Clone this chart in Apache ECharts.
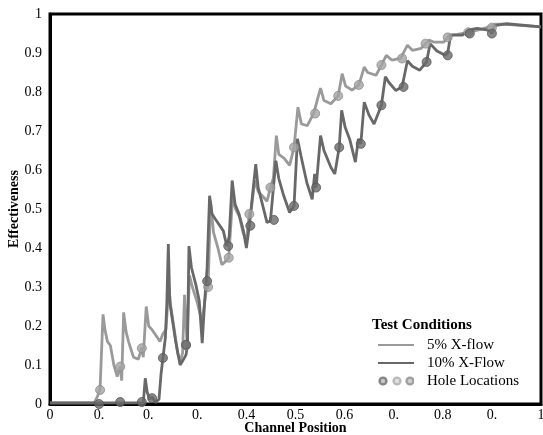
<!DOCTYPE html>
<html><head><meta charset="utf-8">
<script src="https://cdn.jsdelivr.net/npm/echarts@6/dist/echarts.min.js"></script>
<style>html,body{margin:0;padding:0;background:#fff}#c{width:543px;height:435px}</style>
</head><body><div id="c"></div>
<script>
// ---- data ----
const xTickLabels = ['0','0.','0.','0.','0.4','0.5','0.6','0.','0.8','0.','1'];
const yTickLabels = ['0','0.1','0.2','0.3','0.4','0.5','0.6','0.7','0.8','0.9','1'];

const x5 = [0,0.09,0.097,0.102,0.108,0.112,0.117,0.123,0.130,0.137,0.141,0.143,0.146,0.150,0.155,0.160,0.170,0.180,0.187,0.190,0.196,0.201,0.208,0.219,0.224,0.230,0.236,0.242,0.246,0.252,0.260,0.265,0.270,0.274,0.279,0.284,0.290,0.300,0.310,0.318,0.322,0.327,0.333,0.342,0.350,0.357,0.364,0.372,0.378,0.386,0.393,0.400,0.406,0.410,0.417,0.424,0.435,0.442,0.449,0.455,0.461,0.466,0.477,0.488,0.497,0.505,0.512,0.524,0.537,0.551,0.558,0.572,0.587,0.595,0.602,0.615,0.629,0.640,0.647,0.664,0.675,0.685,0.696,0.714,0.728,0.738,0.756,0.765,0.772,0.781,0.802,0.813,0.830,0.852,0.873,0.894,0.908,0.922,0.958,1.0];
const y5 = [0.003,0.003,0.02,0.04,0.23,0.19,0.16,0.15,0.10,0.07,0.09,0.096,0.06,0.235,0.185,0.16,0.12,0.115,0.145,0.12,0.25,0.20,0.19,0.17,0.16,0.18,0.19,0.30,0.25,0.20,0.13,0.11,0.13,0.28,0.16,0.33,0.30,0.26,0.21,0.29,0.30,0.52,0.44,0.40,0.357,0.365,0.375,0.53,0.50,0.48,0.44,0.418,0.487,0.50,0.573,0.545,0.53,0.52,0.555,0.58,0.688,0.64,0.63,0.612,0.658,0.761,0.718,0.714,0.745,0.81,0.778,0.77,0.79,0.847,0.815,0.805,0.818,0.864,0.85,0.843,0.869,0.894,0.882,0.886,0.92,0.907,0.912,0.924,0.933,0.928,0.928,0.946,0.948,0.953,0.959,0.967,0.974,0.974,0.971,0.967];

const x10 = [0,0.19,0.194,0.198,0.203,0.208,0.215,0.222,0.226,0.230,0.235,0.238,0.241,0.244,0.250,0.256,0.262,0.265,0.270,0.277,0.280,0.283,0.288,0.297,0.304,0.310,0.315,0.320,0.325,0.330,0.339,0.353,0.360,0.365,0.371,0.377,0.385,0.394,0.400,0.406,0.419,0.424,0.431,0.442,0.449,0.454,0.460,0.466,0.475,0.488,0.497,0.504,0.511,0.523,0.534,0.539,0.542,0.551,0.558,0.572,0.580,0.589,0.594,0.601,0.611,0.622,0.628,0.633,0.640,0.650,0.660,0.675,0.683,0.690,0.704,0.717,0.728,0.738,0.753,0.767,0.774,0.788,0.805,0.810,0.816,0.840,0.855,0.870,0.895,0.900,0.905,0.915,0.930,1.0];
const y10 = [0.003,0.003,0.066,0.03,0.012,0.018,0.004,0.012,0.075,0.118,0.17,0.26,0.41,0.26,0.21,0.16,0.12,0.10,0.11,0.126,0.15,0.405,0.35,0.306,0.264,0.156,0.264,0.35,0.534,0.487,0.47,0.444,0.405,0.43,0.573,0.512,0.487,0.444,0.40,0.457,0.615,0.555,0.52,0.465,0.47,0.54,0.624,0.578,0.538,0.491,0.508,0.68,0.637,0.568,0.525,0.59,0.555,0.688,0.65,0.607,0.59,0.658,0.753,0.71,0.676,0.62,0.68,0.667,0.774,0.74,0.718,0.766,0.839,0.825,0.804,0.813,0.88,0.866,0.856,0.877,0.924,0.905,0.894,0.9,0.946,0.946,0.96,0.963,0.958,0.95,0.97,0.972,0.975,0.967];

const holeX5 = [0.102,0.143,0.187,0.277,0.322,0.364,0.406,0.449,0.497,0.540,0.587,0.629,0.675,0.717,0.765,0.810,0.852,0.900];
const holeY5 = [0.036,0.096,0.143,0.15,0.30,0.375,0.487,0.555,0.658,0.745,0.79,0.818,0.869,0.886,0.924,0.94,0.953,0.965];
const holeX10 = [0.100,0.143,0.187,0.208,0.230,0.277,0.320,0.363,0.408,0.456,0.497,0.542,0.589,0.633,0.675,0.720,0.767,0.810,0.855,0.900];
const holeY10 = [0.0,0.005,0.005,0.015,0.118,0.152,0.315,0.405,0.457,0.472,0.508,0.555,0.658,0.667,0.766,0.813,0.877,0.894,0.95,0.95];

// ---- build ----
const zip = (a, b) => a.map((v, i) => [v, b[i]]);
const FONT = 'Liberation Serif';
const LIGHT = '#9a9a9a', DARK = '#686868';
const holeSvg = '<svg xmlns="http://www.w3.org/2000/svg" width="36" height="10" viewBox="0 0 36 10">' +
  '<circle cx="5" cy="5" r="3.4" fill="#b8b8b8" stroke="#666" stroke-width="2.4"/>' +
  '<circle cx="19" cy="5" r="3.4" fill="#d8d8d8" stroke="#a8a8a8" stroke-width="2.4"/>' +
  '<circle cx="32" cy="5" r="3.4" fill="#c4c4c4" stroke="#888" stroke-width="2.4"/></svg>';
const holeIcon = 'image://data:image/svg+xml;charset=utf-8,' + encodeURIComponent(holeSvg);
// thin line icon whose bounding box spans the full item box (so it is not stretched)
const lineIcon = 'path://M0,0h0.01v0.01h-0.01z M0,9.99h0.01v0.01h-0.01z M0,4h36v2h-36z';

const chart = echarts.init(document.getElementById('c'), null, {renderer: 'canvas'});
chart.setOption({
  animation: false,
  backgroundColor: '#fff',
  grid: {left: 50, right: 2, top: 14, bottom: 31, outerBoundsMode: 'none', containLabel: false,
    show: true, borderColor: '#000', borderWidth: 3, backgroundColor: 'transparent'},
  xAxis: {
    type: 'value', min: 0, max: 1, interval: 0.1,
    name: 'Channel Position', nameLocation: 'middle', nameGap: 17, nameMoveOverlap: false,
    nameTextStyle: {fontFamily: FONT, fontWeight: 'bold', fontSize: 14, color: '#000'},
    axisLine: {show: true, lineStyle: {color: '#000', width: 3}},
    axisTick: {show: false}, splitLine: {show: false},
    axisLabel: {fontFamily: FONT, fontSize: 14, color: '#000', margin: 4,
      formatter: (v) => xTickLabels[Math.round(v * 10)]}
  },
  yAxis: {
    type: 'value', min: 0, max: 1, interval: 0.1,
    name: 'Effectiveness', nameLocation: 'middle', nameGap: 29, nameMoveOverlap: false,
    nameTextStyle: {fontFamily: FONT, fontWeight: 'bold', fontSize: 14, color: '#000'},
    axisLine: {show: true, lineStyle: {color: '#000', width: 3}},
    axisTick: {show: false}, splitLine: {show: false},
    axisLabel: {fontFamily: FONT, fontSize: 14, color: '#000', margin: 8,
      formatter: (v) => yTickLabels[Math.round(v * 10)]}
  },
  legend: {
    orient: 'vertical', left: 378, top: 336, itemGap: 0, itemWidth: 36, itemHeight: 10,
    padding: 0,
    textStyle: {fontFamily: FONT, fontSize: 15, color: '#000', lineHeight: 18, padding: [0, 0, 0, 8]},
    selectedMode: false,
    data: [
      {name: '5% X-flow', icon: lineIcon, itemStyle: {color: LIGHT}},
      {name: '10% X-Flow', icon: lineIcon, itemStyle: {color: DARK}},
      {name: 'Hole Locations', icon: holeIcon}
    ]
  },
  graphic: [{
    type: 'text', left: 372, top: 318,
    style: {text: 'Test Conditions', font: 'bold 15px "Liberation Serif"', fill: '#000'}
  }],
  series: [
    {name: '5% X-flow', type: 'line', data: zip(x5, y5), symbol: 'none',
      lineStyle: {color: LIGHT, width: 2.8}, itemStyle: {color: LIGHT}, z: 3},
    {name: '10% X-Flow', type: 'line', data: zip(x10, y10), symbol: 'none',
      lineStyle: {color: DARK, width: 2.8}, itemStyle: {color: DARK}, z: 4},
    {name: 'Holes 5%', type: 'scatter', data: zip(holeX5, holeY5), symbol: 'circle', symbolSize: 9,
      itemStyle: {color: '#a4a4a4', borderColor: '#8c8c8c', borderWidth: 1}, clip: false, z: 5},
    {name: 'Holes 10%', type: 'scatter', data: zip(holeX10, holeY10), symbol: 'circle', symbolSize: 9,
      itemStyle: {color: '#6a6a6a', borderColor: '#555', borderWidth: 1}, clip: false, z: 6},
    {name: 'Hole Locations', type: 'scatter', data: []}
  ]
});
</script></body></html>
